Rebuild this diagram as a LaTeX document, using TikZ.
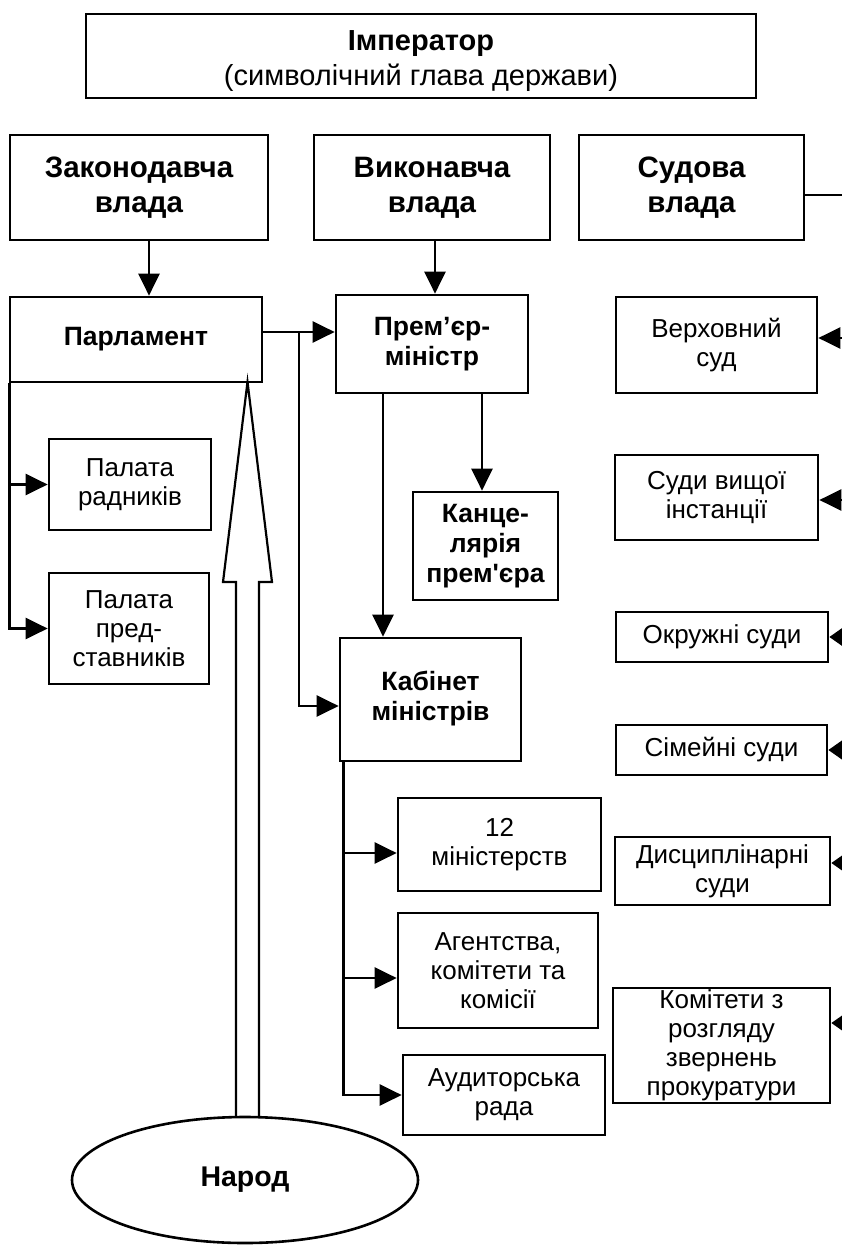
\documentclass[tikz,border=0pt]{standalone}
\usepackage{fontspec}
\setmainfont{Liberation Sans}
\usetikzlibrary{arrows.meta,shapes.geometric}
\begin{document}
\begin{tikzpicture}[x=1pt,y=-1pt,
  box/.style={draw, line width=2.7pt, align=center, inner sep=0pt, fill=white, font=\fontsize{26}{29}\selectfont},
  bbox/.style={box, font=\fontsize{26.5}{30}\selectfont\bfseries},
  hbox/.style={box, font=\fontsize{29.5}{35}\selectfont\bfseries},
  con/.style={line width=2.4pt},
  arr/.style={con, -{Triangle[length=22pt,width=21pt]}},
  rarr/.style={con, -{Triangle[length=14pt,width=19pt]}},
  hollow/.style={line width=2.2pt, fill=white},
]
\useasboundingbox (0,0) rectangle (841,1246);

% top
\node[hbox, minimum width=670pt, minimum height=84pt] (imp) at (421,56)
  {\raisebox{-5pt}[\height][\depth]{\begin{tabular}{@{}c@{}}\fontsize{29}{35}\selectfont Імператор\\{\normalfont\fontsize{29}{35}\selectfont (символічний глава держави)}\end{tabular}}};

% branches
\node[hbox, minimum width=258pt, minimum height=105pt] (zak) at (139,187.5) {Законодавча\\влада};
\node[hbox, minimum width=236pt, minimum height=105pt] (vyk) at (432,187.5) {Виконавча\\влада};
\node[hbox, minimum width=225pt, minimum height=105pt] (sud) at (691.5,187.5) {Судова\\влада};

% legislative
\node[bbox, minimum width=252pt, minimum height=85pt] (parl) at (136,339.5) {Парламент};
\node[box, minimum width=162pt, minimum height=91pt] (palr) at (130,484.5) {Палата\\радників};
\node[box, minimum width=160pt, minimum height=111pt] (palp) at (129,628.5) {Палата\\пред-\\ставників};

% executive
\node[bbox, minimum width=192pt, minimum height=98pt] (prem) at (432,344) {Прем’єр-\\міністр};
\node[bbox, minimum width=145pt, minimum height=108pt] (kanc) at (485.5,546) {Канце-\\лярія\\прем\textquotesingle єра};
\node[bbox, minimum width=181pt, minimum height=123pt] (kab) at (430.5,699.5)
  {\raisebox{6pt}{\begin{tabular}{@{}c@{}}Кабінет\\міністрів\end{tabular}}};
\node[box, minimum width=203pt, minimum height=93pt] (min) at (499.5,844.5) {12\\міністерств};
\node[box, minimum width=200pt, minimum height=115pt] (agen) at (498,970.5) {Агентства,\\комітети та\\комісії};
\node[box, minimum width=202pt, minimum height=80pt] (aud) at (504,1095) {Аудиторська\\рада};

% judicial
\node[box, minimum width=201pt, minimum height=96pt] (verh) at (716.5,345) {Верховний\\суд};
\node[box, minimum width=203pt, minimum height=85pt] (vysh) at (716.5,497.5) {Суди вищої\\інстанції};
\node[box, minimum width=212pt, minimum height=50pt] (okr) at (722,637) {Окружні суди};
\node[box, minimum width=211pt, minimum height=50pt] (sim) at (721.5,750) {Сімейні суди};
\node[box, minimum width=215pt, minimum height=68pt] (dysc) at (722.5,871) {Дисциплінарні\\суди};
\node[box, minimum width=217pt, minimum height=115pt] (kom) at (721.5,1045.5) {Комітети з\\розгляду\\звернень\\прокуратури};

% people
\draw[hollow] (236,1117) -- (236,582) -- (223,582) -- (247.5,382) -- (272,582) -- (259,582) -- (259,1117);
\node[draw, ellipse, line width=2.6pt, fill=white, minimum width=346pt, minimum height=126pt, inner sep=0pt,
  font=\fontsize{28.5}{34}\selectfont\bfseries] (nar) at (245,1180) {Народ};

% coordinates
\coordinate (j1) at (299,332);
\coordinate (j2) at (299,706);
\coordinate (re) at (850,0);
\coordinate (rs) at (841.5,0);
\coordinate (kb) at ([xshift=5pt]kab.south west);

% connectors
\draw[arr] ([xshift=10pt]zak.south) -- ([xshift=10pt]zak.south |- parl.north);
\draw[arr] ([xshift=3pt]vyk.south) -- ([xshift=3pt]vyk.south |- prem.north);
\draw[arr] (parl.east |- j1) -- (prem.west |- j1);
\draw[arr] (j1) -- (j2) -- (kab.west |- j2);
\draw[arr] ([xshift=-49pt]prem.south) -- ([xshift=-49pt]prem.south |- kab.north);
\draw[arr] ([xshift=50pt]prem.south) -- ([xshift=50pt]prem.south |- kanc.north);
\draw[arr] ([xshift=1pt]parl.south west) |- (palp.west);
\draw[arr] ([xshift=1pt]parl.south west |- palr.west) -- (palr.west);
\draw[arr] (kb) |- (aud.west);
\draw[arr] ([yshift=-8.5pt]min.west -| kb) -- ([yshift=-8.5pt]min.west);
\draw[arr] ([yshift=-7.5pt]agen.west -| kb) -- ([yshift=-7.5pt]agen.west);

\draw[con] ([yshift=-7.5pt]sud.east) -- ([yshift=-7.5pt]sud.east -| re);
\draw[arr] ([yshift=7pt]verh.east -| re) -- ([yshift=7pt]verh.east);
\draw[arr] ([yshift=-2.5pt]vysh.east -| re) -- ([yshift=-2.5pt]vysh.east);
\draw[rarr] (okr.east -| rs) -- (okr.east);
\draw[rarr] (sim.east -| rs) -- (sim.east);
\draw[rarr] ([yshift=8pt]dysc.east -| rs) -- ([yshift=8pt]dysc.east);
\draw[rarr] ([yshift=22.5pt]kom.east -| rs) -- ([yshift=22.5pt]kom.east);
\end{tikzpicture}
\end{document}
